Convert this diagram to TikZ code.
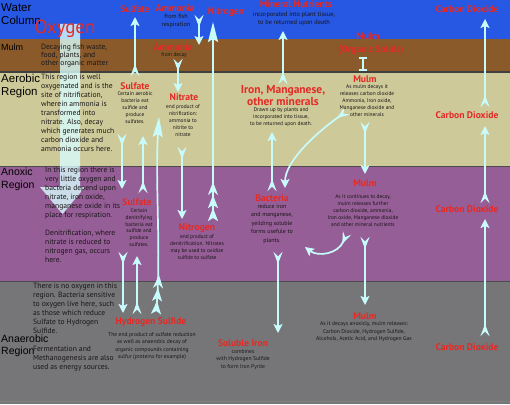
\documentclass[tikz,border=0pt]{standalone}
\usepackage{fontspec}
\setmainfont{PT Sans}
\newfontfamily\regionfont{Liberation Sans}
\usepackage{tikz}
\usetikzlibrary{arrows.meta, positioning}

\definecolor{waterblue}{RGB}{38,88,228}
\definecolor{mulmbrown}{RGB}{138,90,42}
\definecolor{aerotan}{RGB}{206,201,152}
\definecolor{anoxpurple}{RGB}{150,94,150}
\definecolor{anaergray}{RGB}{118,117,119}
\definecolor{labelred}{RGB}{228,42,38}
\definecolor{flowcyan}{RGB}{200,252,252}
\definecolor{inkdark}{RGB}{25,22,25}

\tikzset{
  region/.style={font=\regionfont\fontsize{11.5}{12.5}\selectfont, align=left, anchor=west, inner sep=0pt},
  desc/.style={font=\fontsize{7.6}{9}\selectfont, text=inkdark, align=left, anchor=north west, inner sep=0pt},
  tag/.style={font=\bfseries\fontsize{9.6}{11}\selectfont, text=labelred, inner sep=0pt, align=center},
  note/.style={font=\fontsize{5.4}{7}\selectfont, text=inkdark, align=center, anchor=north, inner sep=0pt},
  flow/.style={draw=flowcyan, line width=1.7pt, -{Stealth[length=9pt,width=9pt,inset=2pt]}},
  fletched/.style={flow, {Stealth[reversed,length=12pt,width=9pt,inset=4.5pt]}-{Stealth[length=9pt,width=9pt,inset=2pt]}},
  longfletched/.style={flow, {Stealth[reversed,length=13pt,width=10pt,inset=3pt]Stealth[reversed,length=13pt,width=10pt,inset=3pt]Stealth[reversed,length=13pt,width=10pt,inset=4pt]}-{Stealth[length=20pt,width=10pt,inset=3pt]}},
}

\begin{document}
\begin{tikzpicture}[x=1pt, y=-1pt]
\useasboundingbox (0,0) rectangle (510,404);
% Layers of the tank
\fill[waterblue] (0,0) rectangle (510,39);
\fill[mulmbrown] (0,39) rectangle (510,72);
\fill[aerotan] (0,72) rectangle (510,166.5);
\fill[anoxpurple] (0,166.5) rectangle (510,281.5);
\fill[anaergray] (0,281.5) rectangle (510,404);
\draw[black!75, line width=1.8pt] (0,72) -- (510,72);
\draw[black!70, line width=0.8pt] (0,166.5) -- (510,166.5);
\draw[black!70, line width=1.2pt] (0,281.5) -- (510,281.5);
\draw[black!50, line width=0.8pt] (0,401) -- (510,401);

% Oxygen diffusing down
\fill[flowcyan!70!white, opacity=0.8] (60,24) -- (80,24) -- (80,187) -- (85,187) -- (62.5,214) -- (40,187) -- (60,187) -- cycle;

% Arrow ends
\coordinate (sulfUpTail) at (135,76);
\coordinate (sulfUpHead) at (135,17);
\coordinate (fishTail) at (199,15);
\coordinate (fishHead) at (199,45);
\coordinate (decayTail) at (178,59);
\coordinate (decayHead) at (178,92);
\coordinate (n2Tail) at (213,221);
\coordinate (n2Head) at (213,22);
\coordinate (no3Tail) at (182,147);
\coordinate (no3Head) at (182,219);
\coordinate (uptakeTail) at (283,84);
\coordinate (uptakeHead) at (283,31);
\coordinate (oxideTail) at (347,111);
\coordinate (oxideHead) at (285,188);
\coordinate (bactUpTail) at (272,191);
\coordinate (bactUpHead) at (272,132);
\coordinate (ironDownTail) at (278,252);
\coordinate (ironDownHead) at (278,333);
\coordinate (settleTop) at (363,57);
\coordinate (settleBot) at (363,71);
\coordinate (mulmAXTail) at (365,122);
\coordinate (mulmAXHead) at (365,174);
\coordinate (mulmXNTail) at (365,237);
\coordinate (mulmXNHead) at (365,305);
\coordinate (oxideTwoTail) at (347,233);
\coordinate (oxideTwoHead) at (305,247);
\coordinate (sulfDownTail) at (122,134);
\coordinate (sulfDownHead) at (122,189);
\coordinate (sulfUpTwoTail) at (143,193);
\coordinate (sulfUpTwoHead) at (143,136);
\coordinate (h2sUpTail) at (156,314);
\coordinate (h2sUpHead) at (159,117);
\coordinate (so4DownTail) at (123,252);
\coordinate (so4DownHead) at (123,313);
\coordinate (h2sUpTwoTail) at (137,314);
\coordinate (h2sUpTwoHead) at (137,256);
\coordinate (co2aHead) at (485,19);
\coordinate (co2bTail) at (485,107);
\coordinate (co2bHead) at (485,126);
\coordinate (co2cTail) at (485,203);
\coordinate (co2cHead) at (485,219);
\coordinate (co2dTail) at (485,336);

% Cycles
\draw[fletched] (sulfUpTail) -- (sulfUpHead);
\draw[fletched] (fishTail) -- (fishHead);
\draw[fletched] (decayTail) -- (decayHead);
\draw[longfletched] (n2Tail) -- (n2Head);
\draw[fletched] (no3Tail) -- (no3Head);
\draw[fletched] (uptakeTail) -- (uptakeHead);
\draw[fletched] (oxideTail) .. controls (320,130) and (285,160) .. (oxideHead);
\draw[fletched] (bactUpTail) -- (bactUpHead);
\draw[fletched] (ironDownTail) -- (ironDownHead);
\draw[flowcyan, line width=1.7pt, {Bar[width=8pt]}-{Bar[width=8pt]}] (settleTop) -- (settleBot);
\draw[fletched] (mulmAXTail) -- (mulmAXHead);
\draw[fletched] (mulmXNTail) -- (mulmXNHead);
\draw[fletched] (oxideTwoTail) .. controls (338,254) and (318,257) .. (oxideTwoHead);
\draw[fletched] (sulfDownTail) -- (sulfDownHead);
\draw[fletched] (sulfUpTwoTail) -- (sulfUpTwoHead);
\draw[longfletched] (h2sUpTail) .. controls (161,250) and (155,180) .. (h2sUpHead);
\draw[fletched] (so4DownTail) -- (so4DownHead);
\draw[fletched] (h2sUpTwoTail) -- (h2sUpTwoHead);
\draw[fletched] (co2bTail) -- (co2aHead);
\draw[fletched] (co2cTail) -- (co2bHead);
\draw[fletched] (co2dTail) -- (co2cHead);

% Region names
\node[region] (waterlbl) at (1,14) {Water\\Column};
\node[region, font=\regionfont\fontsize{9}{10}\selectfont] (mulmlbl) at (1,47) {Mulm};
\node[region] (aerolbl) at (1,86) {Aerobic\\Region};
\node[region, font=\regionfont\fontsize{10.5}{13}\selectfont] (anoxlbl) at (1,179.5) {Anoxic\\Region};
\node[region, font=\regionfont\fontsize{10.5}{12}\selectfont] (anaerlbl) at (1,346) {Anaerobic\\Region};

% Region descriptions
\node[desc, font=\fontsize{7.6}{8}\selectfont] (mulmtxt) at (41,43.5) {Decaying fish waste,\\food, plants, and\\other organic matter};
\node[desc] (aerotxt) at (41,73.5) {This region is well\\oxygenated and is the\\site of nitrification,\\wherein ammonia is\\transformed into\\nitrate. Also, decay\\which generates much\\carbon dioxide and\\ammonia occurs here.};
\node[desc] (anoxtxt) at (45,166.7) {In this region there is\\very little oxygen and\\bacteria depend upon\\nitrate, iron oxide,\\manganese oxide in its\\place for respiration.\\[9pt]Denitrification, where\\nitrate is reduced to\\nitrogen gas, occurs\\here.};
\node[desc] (anaertxt) at (33,282.7) {There is no oxygen in this\\region. Bacteria sensitive\\to oxygen live here, such\\as those which reduce\\Sulfate to Hydrogen\\Sulfide.\\[9pt]Fermentation and\\Methanogenesis are also\\used as energy sources.};

% Water column and mulm labels
\node[tag, font=\fontsize{19}{20}\selectfont] (oxygen) at (65,29) {Oxygen};
\node[tag] (sulfW) at (135,9) {Sulfate};
\node[tag] (ammW) at (175,8) {Ammonia};
\node[note, font=\fontsize{6.2}{7.5}\selectfont] (ammWtxt) at (176,14) {from fish\\respiration};
\node[tag] (ammM) at (173,47) {Ammonia};
\node[note] (ammMtxt) at (174,52.5) {from decay};
\node[tag] (nitrogenW) at (226,12) {Nitrogen};
\node[tag] (minerals) at (296,4.5) {Mineral Nutrients};
\node[note, font=\fontsize{6.4}{8}\selectfont] (mineraltxt) at (294,12) {incorporated into plant tissue,\\to be returned upon death};
\node[tag] (mulmS) at (368,36) {Mulm};
\node[tag] (organic) at (371,50) {(Organic Solids)};
\node[tag] (co2a) at (467,9) {Carbon Dioxide};

% Aerobic labels
\node[tag] (sulfA) at (135,86) {Sulfate};
\node[note] (sulfAtxt) at (135,91.5) {Certain aerobic\\bacteria eat\\sulfide and\\produce\\sulfates.};
\node[tag] (nitrate) at (184,97) {Nitrate};
\node[note] (nitratetxt) at (183,104.5) {end product of\\nitrification:\\ammonia to\\nitrite to\\nitrate};
\node[tag, font=\bfseries\fontsize{11.5}{12}\selectfont] (iron) at (283,96) {Iron, Manganese,\\other minerals};
\node[note] (irontxt) at (281,107.5) {Drawn up by plants and\\incorporated into tissue,\\to be returned upon death.};
\node[tag] (mulmA) at (365,79) {Mulm};
\node[note] (mulmAtxt) at (367,84.5) {As mulm decays it\\releases carbon dioxide\\Ammonia, Iron oxide,\\Manganese dioxide and\\other minerals};
\node[tag] (co2b) at (467,115) {Carbon Dioxide};

% Anoxic labels
\node[tag] (sulfX) at (137,202) {Sulfate};
\node[note, font=\fontsize{5.4}{6.8}\selectfont] (sulfXtxt) at (139,208.5) {Certain\\denitrifying\\bacteria eat\\sulfide and\\produce\\sulfates.};
\node[tag] (nitrogenX) at (197,228) {Nitrogen};
\node[note] (nitrogentxt) at (197,234.5) {end product of\\denitrification. Nitrates\\may be used to oxidize\\sulfide to sulfate};
\node[tag] (bacteria) at (272,198) {Bacteria};
\node[note, font=\fontsize{6}{8.5}\selectfont] (bacteriatxt) at (272,204) {reduce iron\\and manganese,\\yeilding soluble\\forms usefule to\\plants.};
\node[tag] (mulmX) at (365,183) {Mulm};
\node[note] (mulmXtxt) at (363,194.5) {As it continues to decay,\\mulm releases further\\carbon dioxide, ammonia,\\Iron oxide, Manganese dioxide\\and other mineral nutrients};
\node[tag] (co2c) at (467,209) {Carbon Dioxide};

% Anaerobic labels
\node[tag] (h2s) at (151,322.5) {Hydrogen Sulfide};
\node[note, font=\fontsize{5.6}{7.5}\selectfont] (h2stxt) at (152,332) {The end product of sulfate reduction\\as well as anaerobic decay of\\organic compounds containing\\sulfur (proteins for example)};
\node[tag] (soliron) at (243,343.5) {Soluble Iron};
\node[note, font=\fontsize{5.6}{7.5}\selectfont] (solirontxt) at (243,349) {combines\\with Hydrogen Sulfide\\to form Iron Pyrite};
\node[tag] (mulmN) at (365,316) {Mulm};
\node[note, font=\fontsize{5.6}{7.5}\selectfont] (mulmNtxt) at (364,321.5) {As it decays anoxicly, mulm releases:\\Carbon Dioxide, Hydrogen Sulfide,\\Alcohols, Acetic Acid, and Hydrogen Gas};
\node[tag] (co2d) at (467,347) {Carbon Dioxide};
\end{tikzpicture}
\end{document}
